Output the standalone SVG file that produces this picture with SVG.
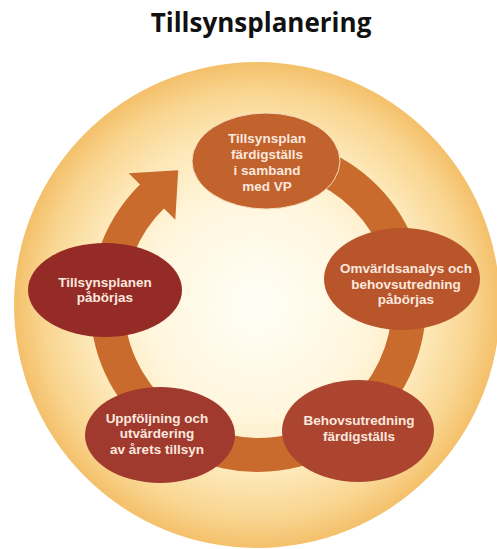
<svg xmlns="http://www.w3.org/2000/svg" width="497" height="549" viewBox="0 0 497 549">
  <defs>
    <radialGradient id="glow" cx="257" cy="305" r="243" gradientUnits="userSpaceOnUse">
      <stop offset="0" stop-color="#fffef7"/>
      <stop offset="0.45" stop-color="#fff6dd"/>
      <stop offset="0.7" stop-color="#fde8b8"/>
      <stop offset="0.88" stop-color="#f9d590"/>
      <stop offset="1" stop-color="#f4c06a"/>
    </radialGradient>
  </defs>
  <style>
    .title { font-family: "Open Sans", "Liberation Sans", sans-serif; font-weight: 700; font-size: 26px; fill: #111111; }
    .lbl { font-family: "Liberation Sans", Arial, sans-serif; font-weight: 700; font-size: 13.5px; fill: #fbe8de; text-anchor: middle; }
    .band { fill: none; stroke: #c96b2c; stroke-width: 34; stroke-linecap: butt; }
    .head { fill: #c96b2c; }
  </style>
  <rect width="497" height="549" fill="#ffffff"/>
  <circle cx="257" cy="305" r="243" fill="url(#glow)"/>
  <text class="title" x="261" y="32" text-anchor="middle">Tillsynsplanering</text>

  <g id="connectors">
    <path class="band" d="M 297.1 158.1 A 151 151 0 1 1 153.1 195.4"/>
    <polygon class="head" points="128.7,173.2 178.2,170.3 175.3,219.8"/>
  </g>

  <g id="node-top">
    <ellipse cx="266" cy="161" rx="74" ry="48" fill="#c2622d" stroke="#f6dcb8" stroke-width="1"/>
    <text class="lbl" x="267" y="143">Tillsynsplan</text>
    <text class="lbl" x="267" y="159">färdigställs</text>
    <text class="lbl" x="267" y="175">i samband</text>
    <text class="lbl" x="267" y="191">med VP</text>
  </g>

  <g id="node-right">
    <ellipse cx="402" cy="279" rx="78" ry="51" fill="#b8552b"/>
    <text class="lbl" x="406" y="273">Omvärldsanalys och</text>
    <text class="lbl" x="406" y="288.5">behovsutredning</text>
    <text class="lbl" x="406" y="304">påbörjas</text>
  </g>

  <g id="node-bottom-right">
    <ellipse cx="358" cy="431" rx="76" ry="51" fill="#ab4530"/>
    <text class="lbl" x="359" y="425">Behovsutredning</text>
    <text class="lbl" x="359" y="441">färdigställs</text>
  </g>

  <g id="node-bottom-left">
    <ellipse cx="160" cy="435" rx="75" ry="48" fill="#a03a2e"/>
    <text class="lbl" x="157" y="422.5">Uppföljning och</text>
    <text class="lbl" x="157" y="438">utvärdering</text>
    <text class="lbl" x="157" y="453.5">av årets tillsyn</text>
  </g>

  <g id="node-left">
    <ellipse cx="105" cy="290" rx="77" ry="47" fill="#952b27"/>
    <text class="lbl" x="105" y="286.5">Tillsynsplanen</text>
    <text class="lbl" x="105" y="302">påbörjas</text>
  </g>
</svg>
